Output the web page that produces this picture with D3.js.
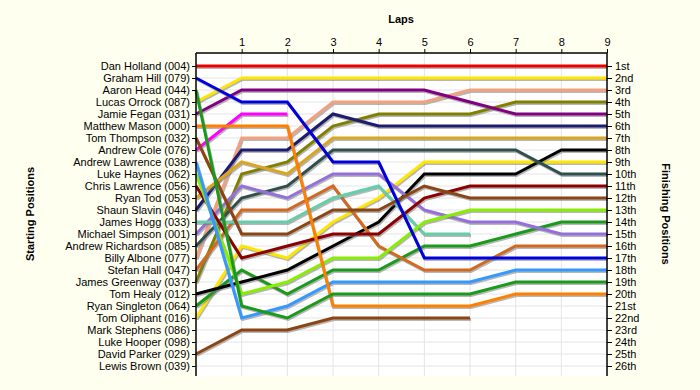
<!DOCTYPE html>
<html>
<head>
<meta charset="utf-8">
<script src="https://cdn.jsdelivr.net/npm/d3@7/dist/d3.min.js"></script>
<style>
  body { margin: 0; background: #fffff0; }
  svg { display: block; font-family: Tahoma, "Liberation Sans", Arial, sans-serif; }
</style>
</head>
<body>
<svg id="chart" width="700" height="390"></svg>
<script>
// starting grid, top to bottom
var drivers = [
  "Dan Holland (004)", "Graham Hill (079)", "Aaron Head (044)", "Lucas Orrock (087)",
  "Jamie Fegan (031)", "Matthew Mason (000)", "Tom Thompson (032)", "Andrew Cole (076)",
  "Andrew Lawrence (038)", "Luke Haynes (062)", "Chris Lawrence (056)", "Ryan Tod (053)",
  "Shaun Slavin (046)", "James Hogg (033)", "Michael Simpson (001)", "Andrew Richardson (085)",
  "Billy Albone (077)", "Stefan Hall (047)", "James Greenway (037)", "Tom Healy (012)",
  "Ryan Singleton (064)", "Tom Oliphant (016)", "Mark Stephens (086)", "Luke Hooper (098)",
  "David Parker (029)", "Lewis Brown (039)"
];

var lapTicks = [1, 2, 3, 4, 5, 6, 7, 8, 9];

var finishLabels = [
  "1st", "2nd", "3rd", "4th", "5th", "6th", "7th", "8th", "9th", "10th",
  "11th", "12th", "13th", "14th", "15th", "16th", "17th", "18th", "19th", "20th",
  "21st", "22nd", "23rd", "24th", "25th", "26th"
];

// position after each lap (index 0 = grid), one row per driver
var positions = [
  [1, 1, 1, 1, 1, 1, 1, 1, 1, 1],
  [2, 4, 4, 9, 9, 17, 17, 17, 17, 17],
  [3, 21, 22, 20, 20, 20, 20, 19, 19, 19],
  [4, 2, 2, 2, 2, 2, 2, 2, 2, 2],
  [5, 3, 3, 3, 3, 3, 4, 5, 5, 5],
  [6, 6, 6, 21, 21, 21, 21, 20, 20, 20],
  [7, 15, 15, 13, 13, 11, 12, 12, 12, 12],
  [8, 5, 5],
  [9, 22, 21, 19, 19, 19, 19, 18, 18, 18],
  [10, 20, 19, 17, 17, 14, 13, 13, 13, 13],
  [11, 17, 16, 15, 15, 12, 11, 11, 11, 11],
  [12, 9, 10, 7, 7, 7, 7, 7, 7, 7],
  [13, 8, 8, 5, 6, 6, 6, 6, 6, 6],
  [14, 14, 14, 12, 11, 15, 15],
  [15, 11, 12, 10, 10, 13, 14, 14, 15, 15],
  [16, 12, 11, 8, 8, 8, 8, 8, 10, 10],
  [17, 7, 7, 4, 4, 4, 3, 3, 3, 3],
  [18, 13, 13, 11, 16, 18, 18, 16, 16, 16],
  [19, 10, 9, 6, 5, 5, 5, 4, 4, 4],
  [20, 19, 18, 16, 14, 10, 10, 10, 8, 8],
  [21, 18, 20, 18, 18, 16, 16, 15, 14, 14],
  [22, 16, 17, 14, 12, 9, 9, 9, 9, 9],
  [],
  [],
  [25, 23, 23, 22, 22, 22, 22],
  []
];

var lineColors = [
  "#ee0000", "#0000dd", "#1a9a1a", "#ffe600", "#800080", "#ff8000", "#8b4513",
  "#ff00ff", "#3399ff", "#88ee00", "#8b0000", "#daa520", "#1c1c70", "#66cdaa",
  "#9370db", "#2f4f4f", "#f4a080", "#d2691e", "#808000", "#000000", "#1a9a1a",
  "#ffe600", "#000000", "#000000", "#8b4513", "#000000"
];

(function() {
  var svg = d3.select("#chart");
  var plotLeft = 196, plotRight = 607, plotTop = 53, plotBottom = 376;

  var x = d3.scaleLinear().domain([0, 9]).range([plotLeft, plotRight]);
  var y = d3.scaleLinear().domain([1, 26]).range([66, 366]);

  svg.append("rect")
    .attr("x", plotLeft).attr("y", plotTop)
    .attr("width", plotRight - plotLeft).attr("height", plotBottom - plotTop)
    .attr("fill", "#ffffff");

  // grid
  svg.append("g").selectAll("line")
    .data(d3.range(1, 27))
    .join("line")
    .attr("x1", plotLeft).attr("x2", plotRight)
    .attr("y1", function(d) { return y(d); })
    .attr("y2", function(d) { return y(d); })
    .attr("stroke", "#e4e4e4");

  svg.append("g").selectAll("line")
    .data(d3.range(1, 9))
    .join("line")
    .attr("x1", function(d) { return x(d); })
    .attr("x2", function(d) { return x(d); })
    .attr("y1", plotTop).attr("y2", plotBottom)
    .attr("stroke", "#e4e4e4");

  // race lines, leaders drawn last so they sit on top
  var line = d3.line()
    .x(function(d, i) { return x(i); })
    .y(function(d) { return y(d); });

  var racers = positions
    .map(function(p, i) { return { pos: p, color: lineColors[i] }; })
    .filter(function(d) { return d.pos.length > 1; })
    .reverse();

  var lines = svg.append("g");
  racers.forEach(function(d) {
    lines.append("path")
      .attr("d", line(d.pos))
      .attr("fill", "none")
      .attr("stroke", "#7a7a7a")
      .attr("stroke-opacity", 0.55)
      .attr("stroke-width", 3)
      .attr("transform", "translate(1,1.5)");
    lines.append("path")
      .attr("d", line(d.pos))
      .attr("fill", "none")
      .attr("stroke", d.color)
      .attr("stroke-width", 3);
  });

  // axes
  var topAxis = svg.append("g")
    .attr("transform", "translate(0," + plotTop + ")")
    .call(d3.axisTop(x).tickValues(lapTicks).tickSize(4).tickPadding(3).tickSizeOuter(0));

  var leftAxis = svg.append("g")
    .attr("transform", "translate(" + plotLeft + ",0)")
    .call(d3.axisLeft(y).tickValues(d3.range(1, 27))
      .tickFormat(function(d) { return drivers[d - 1]; })
      .tickSize(4).tickPadding(2).tickSizeOuter(0));

  var rightAxis = svg.append("g")
    .attr("transform", "translate(" + plotRight + ",0)")
    .call(d3.axisRight(y).tickValues(d3.range(1, 27))
      .tickFormat(function(d) { return finishLabels[d - 1]; })
      .tickSize(5).tickPadding(3).tickSizeOuter(0));

  [topAxis, leftAxis, rightAxis].forEach(function(g) {
    g.selectAll("text").attr("fill", "#000").style("font-size", "11px").style("font-family", null);
    g.selectAll("line").attr("stroke", "#000");
  });
  leftAxis.select(".domain").attr("d", "M0," + plotTop + "V" + plotBottom).attr("stroke", "#000").attr("stroke-width", 1.5);
  rightAxis.select(".domain").attr("d", "M0," + plotTop + "V" + plotBottom).attr("stroke", "#000").attr("stroke-width", 1.5);
  topAxis.select(".domain").attr("d", "M" + plotLeft + ",0H" + plotRight).attr("stroke", "#000").attr("stroke-width", 1.5);

  // titles
  svg.append("text")
    .attr("x", 401).attr("y", 23)
    .attr("text-anchor", "middle")
    .style("font-size", "11px").style("font-weight", "bold")
    .text("Laps");

  svg.append("text")
    .attr("transform", "translate(34,214) rotate(-90)")
    .attr("text-anchor", "middle")
    .style("font-size", "11px").style("font-weight", "bold")
    .text("Starting Positions");

  svg.append("text")
    .attr("transform", "translate(662,214) rotate(90)")
    .attr("text-anchor", "middle")
    .style("font-size", "11px").style("font-weight", "bold")
    .text("Finishing Positions");
})();
</script>
</body>
</html>
